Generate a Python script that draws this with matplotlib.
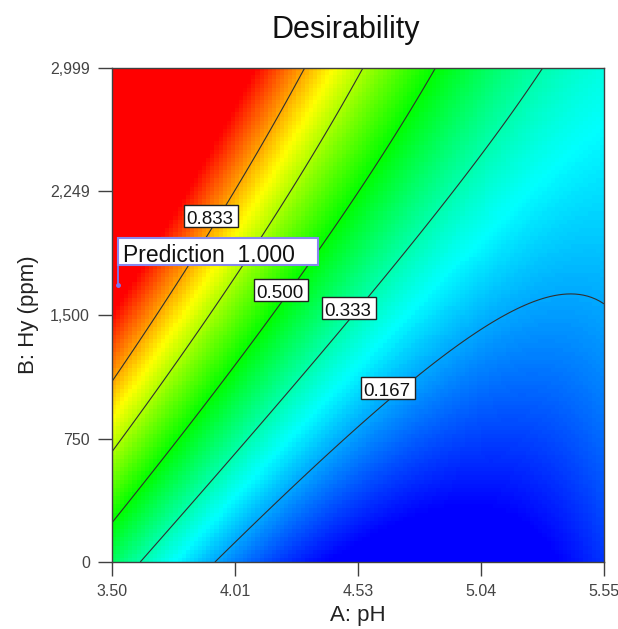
import numpy as np
import matplotlib
matplotlib.use('Agg')
import matplotlib.pyplot as plt
from matplotlib.colors import LinearSegmentedColormap
from matplotlib.patches import Rectangle

plt.rcParams['font.family'] = ['Liberation Sans', 'DejaVu Sans']

# points read along the contour lines of the reference (level, pH, Hy)
lev = np.array([0.833, 0.833, 0.833, 0.833, 0.833,
                0.667, 0.667, 0.667, 0.667, 0.667,
                0.500, 0.500, 0.500, 0.500, 0.500,
                0.333, 0.333, 0.333, 0.333, 0.333, 0.333,
                0.167, 0.167, 0.167, 0.167, 0.167, 0.167, 0.167])
ph = np.array([3.50, 3.671, 3.908, 3.992, 4.296,
               3.50, 3.896, 4.046, 4.200, 4.546,
               3.50, 4.146, 4.283, 4.533, 4.850,
               3.621, 4.283, 4.492, 4.604, 4.950, 5.304,
               3.929, 4.283, 4.658, 4.979, 5.188, 5.421, 5.554])
hy = np.array([1105, 1469, 1997, 2167, 2999,
               668, 1469, 1833, 2155, 2999,
               243, 1469, 1730, 2277, 2999,
               0, 1117, 1469, 1651, 2319, 2999,
               0, 498, 983, 1366, 1542, 1621, 1572])

niveles = [0.167, 0.333, 0.500, 0.667, 0.833]
# lower-left corner of each contour label box
etiquetas = {0.833: (3.800, 2034), 0.500: (4.092, 1585), 0.333: (4.375, 1475), 0.167: (4.538, 990)}

xticks = [3.50, 4.0125, 4.525, 5.0375, 5.55]
yticks = [0, 749.75, 1499.5, 2249.25, 2999]
ytick_txt = ['0', '750', '1,500', '2,249', '2,999']

pred_ph, pred_hy, pred_val = 3.525, 1682, 1.000

# quadratic surface fitted through the contour readings
def terminos(x, y):
    a = (x - 4.525) / 1.025
    b = (y - 1499.5) / 1499.5
    return np.stack([np.ones_like(a), a, b, a*b, a**2, b**2], axis=-1)

coef, *_ = np.linalg.lstsq(terminos(ph, hy), lev, rcond=None)

xg = np.linspace(3.5, 5.55, 120)
yg = np.linspace(0, 2999, 120)
XX, YY = np.meshgrid(xg, yg)
D = np.clip(terminos(XX, YY) @ coef, 0, 1)

cmap = LinearSegmentedColormap.from_list('de', ['#0000ff', '#00ffff', '#00ff00', '#ffff00', '#ff0000'])

fig = plt.figure(figsize=(6.18, 6.29), dpi=100)
ax = fig.add_axes([0.1812, 0.1065, 0.7961, 0.7854])
ax.imshow(D, origin='lower', extent=[3.5, 5.55, 0, 2999], aspect='auto',
          cmap=cmap, vmin=0, vmax=1, interpolation='nearest')
ax.contour(XX, YY, D, levels=niveles, colors='#303030', linewidths=0.8)

# box sizes in data units (about 54 x 22 px)
bw, bh = 0.225, 134
for v, (x0, y0) in etiquetas.items():
    ax.add_patch(Rectangle((x0, y0), bw, bh, fc='white', ec='#222222', lw=1.0, zorder=5))
    ax.text(x0 + 0.009, y0 + 16, '%.3f' % v, fontsize=13.5, va='baseline', ha='left',
            color='#111111', zorder=6)

# prediction flag
ax.plot([pred_ph, pred_ph], [pred_hy, 1803], color='#7878f0', lw=1.3, zorder=5)
ax.plot(pred_ph, pred_hy, 'o', color='#7878f0', ms=2.5, zorder=6)
ax.add_patch(Rectangle((pred_ph, 1803), 0.833, 164, fc='white', ec='#8888ee', lw=1.5, zorder=6))
ax.text(pred_ph + 0.021, 1823, 'Prediction  %.3f' % pred_val, fontsize=16.5, va='baseline',
        ha='left', color='#111111', zorder=7)

ax.set_xlim(3.5, 5.55)
ax.set_ylim(0, 2999)
ax.set_xticks(xticks)
ax.set_xticklabels(['%.2f' % t for t in xticks])
ax.set_yticks(yticks)
ax.set_yticklabels(ytick_txt)
ax.tick_params(direction='out', length=10, width=1, color='#404040', labelsize=11.5,
               labelcolor='#444444', pad=6)
for s in ax.spines.values():
    s.set_color('#404040')
    s.set_linewidth(1)

ax.set_xlabel('A: pH', fontsize=16, color='#222222', labelpad=4)
ax.set_ylabel('B: Hy (ppm)', fontsize=16, color='#222222', labelpad=8)
fig.text(0.56, 0.952, 'Desirability', fontsize=22, ha='center', va='center', color='#111111')

plt.savefig('out.png', dpi=100)
